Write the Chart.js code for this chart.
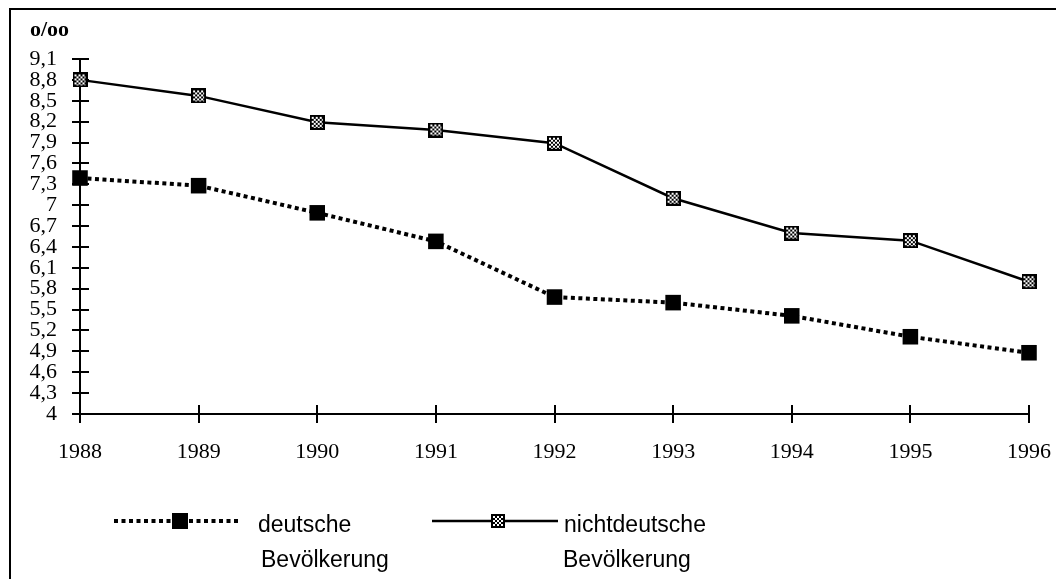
<!DOCTYPE html>
<html>
<head>
<meta charset="utf-8">
<script src="https://cdn.jsdelivr.net/npm/chart.js@4"></script>
<style>
  html, body { margin: 0; padding: 0; background: #fff; }
  canvas { display: block; }
</style>
</head>
<body>
<canvas id="c" width="1056" height="579"></canvas>
<script>
// ---- data ----
const years = ['1988', '1989', '1990', '1991', '1992', '1993', '1994', '1995', '1996'];
const deutsche = [7.39, 7.28, 6.89, 6.48, 5.68, 5.60, 5.41, 5.11, 4.88];
const nichtdeutsche = [8.80, 8.57, 8.19, 8.08, 7.89, 7.10, 6.60, 6.49, 5.90];
const yTickValues = [4, 4.3, 4.6, 4.9, 5.2, 5.5, 5.8, 6.1, 6.4, 6.7, 7, 7.3, 7.6, 7.9, 8.2, 8.5, 8.8, 9.1];
const yTickLabels = ['4', '4,3', '4,6', '4,9', '5,2', '5,5', '5,8', '6,1', '6,4', '6,7', '7', '7,3', '7,6', '7,9', '8,2', '8,5', '8,8', '9,1'];
const seriesNames = [['deutsche', 'Bevölkerung'], ['nichtdeutsche', 'Bevölkerung']];
const unitLabel = 'o/oo';

// checkered marker: black frame, 2px checkerboard inside
function makeChecker(size) {
  const c = document.createElement('canvas');
  c.width = size; c.height = size;
  const g = c.getContext('2d');
  g.fillStyle = '#000';
  g.fillRect(0, 0, size, size);
  g.fillStyle = '#fff';
  for (let y = 2; y < size - 2; y += 2) {
    for (let x = 2; x < size - 2; x += 2) {
      if (((x + y) / 2) % 2 === 0) {
        g.fillRect(x, y, Math.min(2, size - 2 - x), Math.min(2, size - 2 - y));
      }
    }
  }
  return c;
}
const checker = makeChecker(15);
const checkerSmall = makeChecker(14);

const serif = "'Liberation Serif', 'Times New Roman', serif";
const sans = "'Liberation Sans', Arial, sans-serif";

const decor = {
  id: 'decor',
  beforeDatasetsDraw(chart) {
    const ctx = chart.ctx;
    const a = chart.chartArea;
    const xs = chart.scales.x, ys = chart.scales.y;
    ctx.save();
    ctx.strokeStyle = '#000';
    ctx.lineWidth = 2;
    ys.ticks.forEach((t, i) => {
      const y = Math.round(ys.getPixelForTick(i));
      ctx.beginPath();
      ctx.moveTo(a.left, y);
      ctx.lineTo(a.left + 9, y);
      ctx.stroke();
    });
    xs.ticks.forEach((t, i) => {
      const x = Math.round(xs.getPixelForTick(i));
      ctx.beginPath();
      ctx.moveTo(x, a.bottom);
      ctx.lineTo(x, a.bottom - 9);
      ctx.stroke();
    });
    ctx.restore();
  },
  afterDraw(chart) {
    const ctx = chart.ctx;
    ctx.save();
    // frame (top and left)
    ctx.strokeStyle = '#000';
    ctx.lineWidth = 2;
    ctx.beginPath();
    ctx.moveTo(1056, 9);
    ctx.lineTo(10, 9);
    ctx.lineTo(10, 579);
    ctx.stroke();

    // unit label
    ctx.fillStyle = '#000';
    ctx.font = "bold 22px " + serif;
    ctx.textBaseline = 'alphabetic';
    ctx.textAlign = 'left';
    ctx.fillText(unitLabel, 30, 36);

    // legend
    const ds = chart.data.datasets;
    const items = [
      { x0: 114, x1: 239, mx: 180, tx: 258, tx2: 261 },
      { x0: 432, x1: 558, mx: 498, tx: 564, tx2: 563 }
    ];
    const ly = 521;
    items.forEach((it, i) => {
      const d = ds[i];
      ctx.save();
      ctx.strokeStyle = d.borderColor;
      ctx.lineWidth = d.borderWidth;
      ctx.setLineDash(d.borderDash || []);
      ctx.beginPath();
      ctx.moveTo(it.x0, ly);
      ctx.lineTo(it.x1, ly);
      ctx.stroke();
      ctx.restore();
      if (i === 0) {
        ctx.fillStyle = '#000';
        ctx.fillRect(it.mx - 8, ly - 8, 16, 16);
      } else {
        ctx.drawImage(checkerSmall, it.mx - 7, ly - 7);
      }
      ctx.fillStyle = '#000';
      ctx.font = "23px " + sans;
      ctx.fillText(seriesNames[i][0], it.tx, 532);
      ctx.fillText(seriesNames[i][1], it.tx2, 567);
    });
    ctx.restore();
  }
};

new Chart(document.getElementById('c'), {
  type: 'line',
  data: {
    labels: years,
    datasets: [
      {
        label: seriesNames[0].join(' '),
        data: deutsche,
        borderColor: '#000',
        borderWidth: 4,
        borderDash: [4, 3.5],
        borderCapStyle: 'butt',
        tension: 0,
        pointStyle: 'rect',
        pointRadius: 11,
        pointBackgroundColor: '#000',
        pointBorderColor: '#000',
        pointBorderWidth: 0,
        fill: false
      },
      {
        label: seriesNames[1].join(' '),
        data: nichtdeutsche,
        borderColor: '#000',
        borderWidth: 2.5,
        tension: 0,
        pointStyle: checker,
        pointRadius: 8,
        pointBorderWidth: 0,
        fill: false
      }
    ]
  },
  options: {
    responsive: false,
    devicePixelRatio: 1,
    animation: false,
    events: [],
    layout: { padding: { left: 0, right: 27, top: 59, bottom: 105 } },
    plugins: {
      legend: { display: false },
      tooltip: { enabled: false }
    },
    scales: {
      x: {
        type: 'category',
        offset: false,
        grid: { drawOnChartArea: false, drawTicks: true, tickLength: 9, color: '#000', lineWidth: 2 },
        border: { display: true, color: '#000', width: 2 },
        ticks: { color: '#000', font: { family: serif, size: 22 }, padding: 16, maxRotation: 0, autoSkip: false },
        afterFit(s) { s.height = 60; s.paddingLeft = 0; s.paddingRight = 0; }
      },
      y: {
        type: 'linear',
        min: 4,
        max: 9.1,
        afterBuildTicks(s) { s.ticks = yTickValues.map(v => ({ value: v })); },
        grid: { drawOnChartArea: false, drawTicks: true, tickLength: 8, color: '#000', lineWidth: 2 },
        border: { display: true, color: '#000', width: 2 },
        ticks: {
          color: '#000',
          font: { family: serif, size: 22 },
          padding: 15,
          autoSkip: false,
          callback: (v, i) => yTickLabels[i]
        },
        afterFit(s) { s.width = 80; }
      }
    }
  },
  plugins: [decor]
});
</script>
</body>
</html>
